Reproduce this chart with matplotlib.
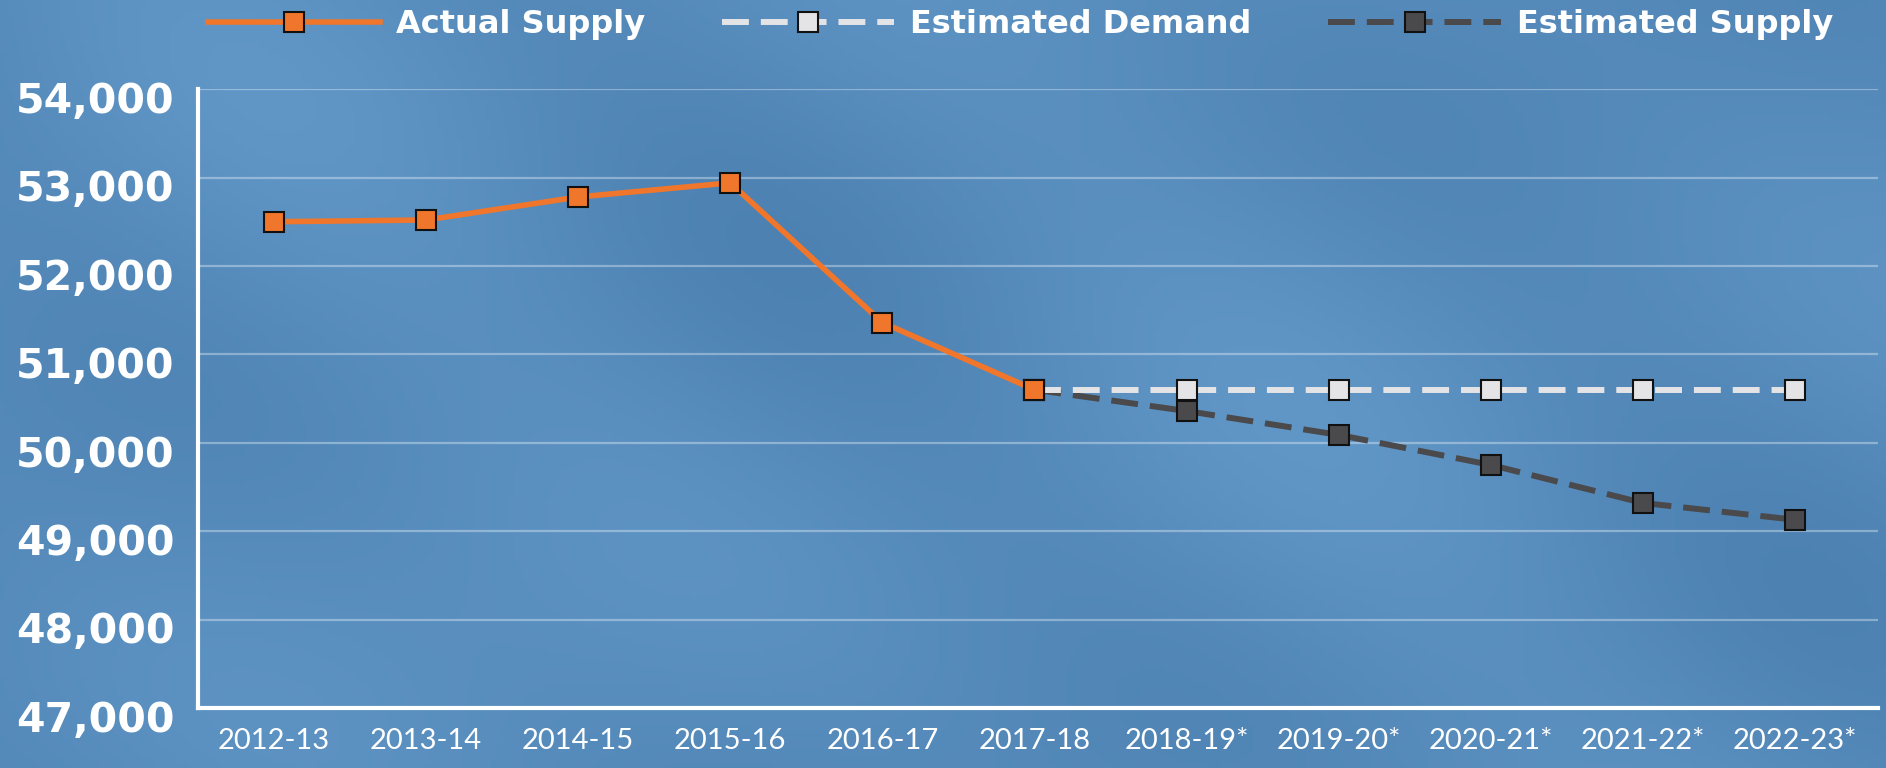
import matplotlib
matplotlib.use('Agg')
import matplotlib.pyplot as plt
import matplotlib.transforms as mtransforms
import numpy as np
from matplotlib.ticker import FuncFormatter

YEARS = ['2012-13', '2013-14', '2014-15', '2015-16', '2016-17', '2017-18',
         '2018-19*', '2019-20*', '2020-21*', '2021-22*', '2022-23*']
nan = np.nan
ACTUAL_SUPPLY = [52500, 52520, 52780, 52940, 51360, 50600, nan, nan, nan, nan, nan]
EST_DEMAND = [nan, nan, nan, nan, nan, 50600, 50600, 50600, 50600, 50600, 50600]
EST_SUPPLY = [nan, nan, nan, nan, nan, 50600, 50360, 50090, 49750, 49320, 49130]
Y_TICKS = [47000, 48000, 49000, 50000, 51000, 52000, 53000, 54000]

ORANGE = '#f0762b'
LIGHT = '#e4e4e6'
DARK = '#4a4a4c'

fig = plt.figure(figsize=(18.86, 7.68), dpi=100)

# soft blue backdrop
bg = fig.add_axes([0, 0, 1, 1])
gx, gy = np.meshgrid(np.linspace(0, 1, 400), np.linspace(0, 1, 160))
shade = 0.5 + 0.25 * np.sin(gx * 9 + gy * 3) * np.cos(gy * 5 - gx * 4) + 0.15 * np.sin(gx * 17 - gy * 7)
bg.imshow(shade, cmap=matplotlib.colors.LinearSegmentedColormap.from_list('bg', ['#4a7fb0', '#6399c9']),
          aspect='auto', extent=[0, 1, 0, 1], vmin=0, vmax=1)
bg.axis('off')

ax = fig.add_axes([0.105, 0.078, 0.891, 0.806])
ax.patch.set_alpha(0)
x = np.arange(len(YEARS))

ax.plot(x, EST_SUPPLY, color=DARK, lw=4.3, dashes=(4.5, 2), marker='s', ms=14,
        mfc=DARK, mec='#111111', mew=1.5, label='Estimated Supply', zorder=3)
ax.plot(x, EST_DEMAND, color=LIGHT, lw=4.3, dashes=(4.5, 2), marker='s', ms=14,
        mfc=LIGHT, mec='#111111', mew=1.5, label='Estimated Demand', zorder=4)
ax.plot(x, ACTUAL_SUPPLY, color=ORANGE, lw=4, marker='s', ms=14,
        mfc=ORANGE, mec='#111111', mew=1.5, label='Actual Supply', zorder=5)

ax.set_xlim(-0.5, 10.55)
ax.set_ylim(47000, 54000)
ax.set_yticks(Y_TICKS)
ax.yaxis.set_major_formatter(FuncFormatter(lambda v, p: f'{int(v):,}'))
ax.set_xticks(x)
ax.set_xticklabels(YEARS)
ax.grid(axis='y', color='white', alpha=0.35, lw=1.6)
ax.set_axisbelow(True)
for s in ['top', 'right']:
    ax.spines[s].set_visible(False)
for s in ['left', 'bottom']:
    ax.spines[s].set_color('white')
    ax.spines[s].set_linewidth(3)
ax.tick_params(length=0)
ax.tick_params(axis='y', pad=17, labelcolor='white')
ax.tick_params(axis='x', pad=14, labelcolor='white')

# y labels sit a little below their grid lines
shift = mtransforms.ScaledTranslation(0, -6 / 72, fig.dpi_scale_trans)
for tick in ax.yaxis.get_major_ticks():
    lab = tick.label1
    lab.set_fontsize(29.5)
    lab.set_fontweight('bold')
    lab.set_fontfamily('DejaVu Sans')
    lab.set_transform(lab.get_transform() + shift)
for t in ax.get_xticklabels():
    t.set_fontsize(21)
    t.set_fontweight('normal')
    t.set_fontfamily('Lato')

h, l = ax.get_legend_handles_labels()
order = [2, 1, 0]
leg = fig.legend([h[i] for i in order], [l[i] for i in order], loc='center',
                 bbox_to_anchor=(0.541, 0.968), ncol=3, frameon=False, numpoints=1,
                 handlelength=5.4, handletextpad=0.5, columnspacing=2.4,
                 prop={'family': 'DejaVu Sans', 'weight': 'bold', 'size': 23})
for t in leg.get_texts():
    t.set_color('white')

fig.savefig('out.png', dpi=100)
